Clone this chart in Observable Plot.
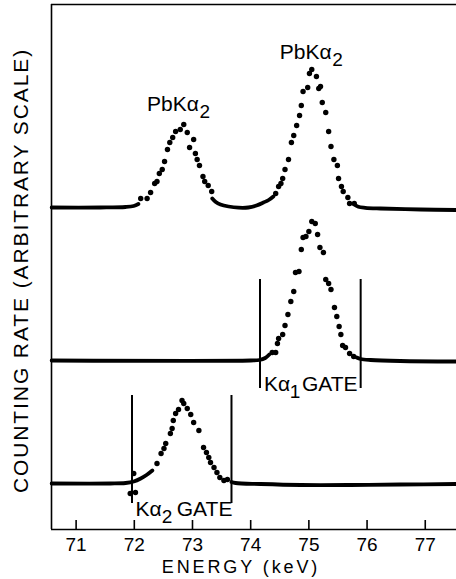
<!DOCTYPE html>
<html><head><meta charset="utf-8">
<script src="https://cdn.jsdelivr.net/npm/d3@7"></script>
<script src="https://cdn.jsdelivr.net/npm/@observablehq/plot@0.6"></script>
<style>html,body{margin:0;padding:0;background:#fff;}</style>
</head><body><div id="chart"></div>
<script>
// ---- data (energy in keV, counting rate in arbitrary units) ----
const xTicks = [71, 72, 73, 74, 75, 76, 77];
const xDomain = [70.577, 77.537];
const yDomain = [0, 525];
const xLabel = "ENERGY (keV)";
const yLabel = "COUNTING RATE (ARBITRARY SCALE)";

// top spectrum (singles)
const topDotsE = [72.11,72.22,72.28,72.35,72.39,72.43,72.48,72.52,72.57,72.61,72.66,72.71,72.79,72.85,72.91,72.95,73.02,73.05,73.08,73.12,73.18,73.21,73.27,73.33,
  74.43,74.48,74.52,74.55,74.59,74.65,74.70,74.74,74.79,74.84,74.87,74.90,74.98,75.01,75.05,75.13,75.17,75.20,75.23,75.29,75.34,75.38,75.43,75.49,75.51,75.56,75.59,75.67,75.70,75.78];
const topDotsV = [331,331,337,346,348,356,360,368,380,387,392,398,400,405,397,382,390,376,370,364,353,348,344,338,
  336,343,346,351,360,370,387,394,404,414,424,438,442,456,460,453,441,443,427,417,398,383,370,364,351,343,338,332,326,326];
const topLineE = [70.58,71.42,71.85,71.99,72.07,null,73.34,73.40,73.48,73.62,73.79,73.96,74.10,74.22,74.31,74.39,null,75.78,75.85,75.97,76.23,76.92,77.54];
const topLineV = [322,322,322.5,323.5,325.5,null,331,327.5,325,323,321.8,322,324,327,329.5,333,null,325,322.7,321.7,321,320,319.5];

// middle spectrum (Ka1 gate)
const midDotsE = [74.37,74.43,74.46,74.48,74.55,74.59,74.64,74.69,74.74,74.77,74.83,74.87,74.90,74.95,75.00,75.05,75.11,75.15,75.19,75.25,75.29,75.34,75.38,75.44,75.48,75.52,75.55,75.58,75.63,75.70,75.77];
const midDotsV = [177,177,186,191,195,204,215,228,238,257,258,280,292,293,298,308,306,295,282,277,250,246,240,222,213,203,195,184,182,176,173];
const midLineE = [70.58,74.00,74.15,74.25,74.32,null,75.82,75.89,76.06,76.57,77.54];
const midLineV = [169,169,169.5,171.5,175,null,172,170.5,169.5,168.5,168];

// bottom spectrum (Ka2 gate)
const botDotsE = [71.93,71.99,72.02,72.39,72.46,72.51,72.54,72.62,72.65,72.67,72.71,72.76,72.82,72.85,72.91,72.97,73.02,73.11,73.19,73.24,73.28,73.31,73.37,73.42,73.47,73.54,73.60];
const botDotsV = [36,56,37,66,76,81,86,96,101,109,116,120,129,126,121,115,107,99,82,77,72,67,62,57,52,49,50];
const botLineE = [70.58,71.59,71.85,71.99,72.11,72.21,72.31,null,73.67,73.74,74.17,74.86,75.72,76.57,77.54];
const botLineV = [46,46,46.5,48,51,54.5,59,null,47.5,46.5,45.5,44.5,44.5,45,45.5];

// gate markers
const gateE  = [74.16, 75.89, 71.96, 73.67];
const gateLo = [141, 141, 26, 26];
const gateHi = [250, 250, 134, 134];

// annotations
const annText = ["PbKα", "PbKα", "Kα", "GATE", "Kα", "GATE"];
const annE = [72.22, 74.50, 74.23, 74.88, 72.02, 72.73];
const annV = [419, 471, 139, 139, 14, 14];
const subText = ["2", "2", "1", "2"];
const subE = [73.12, 75.40, 74.67, 72.47];
const subV = [412, 464, 132, 7];

// ---- build tables ----
const pts = (E, V) => E.map((e, i) => ({e, v: V[i]}));
const dots = [...pts(topDotsE, topDotsV), ...pts(midDotsE, midDotsV), ...pts(botDotsE, botDotsV)];
const lines = [pts(topLineE, topLineV), pts(midLineE, midLineV), pts(botLineE, botLineV)];
const gates = gateE.map((e, i) => ({e, lo: gateLo[i], hi: gateHi[i]}));
const anns = annText.map((t, i) => ({t, e: annE[i], v: annV[i]}));
const subs = subText.map((t, i) => ({t, e: subE[i], v: subV[i]}));
const tickLen = 9;

const font = "'Liberation Sans', Arial, Helvetica, sans-serif";

const chart = Plot.plot({
  width: 456, height: 579,
  marginLeft: 51, marginRight: 0, marginTop: 4, marginBottom: 50,
  style: {fontFamily: font, fontSize: "19px", background: "#fff", color: "#000"},
  x: {domain: xDomain, ticks: xTicks, tickSize: 0, tickPadding: 8, label: null, tickFormat: d => String(d)},
  y: {domain: yDomain, axis: null},
  marks: [
    Plot.ruleX([xDomain[0]], {stroke: "#000", strokeWidth: 1.6}),
    Plot.ruleY([yDomain[0], yDomain[1]], {stroke: "#000", strokeWidth: 1.6}),
    Plot.ruleX(xTicks, {x: d => d, y1: 0, y2: tickLen, stroke: "#000", strokeWidth: 1.6}),
    ...lines.map(L => Plot.line(L, {x: "e", y: "v", stroke: "#000", strokeWidth: 3.8, curve: "catmull-rom"})),
    Plot.ruleX(gates, {x: "e", y1: "lo", y2: "hi", stroke: "#000", strokeWidth: 2}),
    Plot.dot(dots, {x: "e", y: "v", r: 2.7, fill: "#000", stroke: "none"}),
    Plot.text(anns, {x: "e", y: "v", text: "t", textAnchor: "start", lineAnchor: "bottom", fontSize: 21, fill: "#000"}),
    Plot.text(subs, {x: "e", y: "v", text: "t", textAnchor: "start", lineAnchor: "bottom", fontSize: 19, fill: "#000"}),
    Plot.text([xLabel], {text: d => d, frameAnchor: "bottom", dx: -13, dy: 43.5, lineAnchor: "bottom", fontSize: 18, fill: "#000"}),
    Plot.text([yLabel], {text: d => d, frameAnchor: "left", dx: -30, dy: 3.5, rotate: -90, textAnchor: "middle", lineAnchor: "middle", fontSize: 21, fill: "#000"})
  ]
});
document.getElementById("chart").appendChild(chart);
d3.select(chart).selectAll("text").each(function () {
  if (this.textContent === xLabel) this.setAttribute("letter-spacing", "2.9");
  if (this.textContent === yLabel) this.setAttribute("letter-spacing", "1.9");
});
</script></body></html>
